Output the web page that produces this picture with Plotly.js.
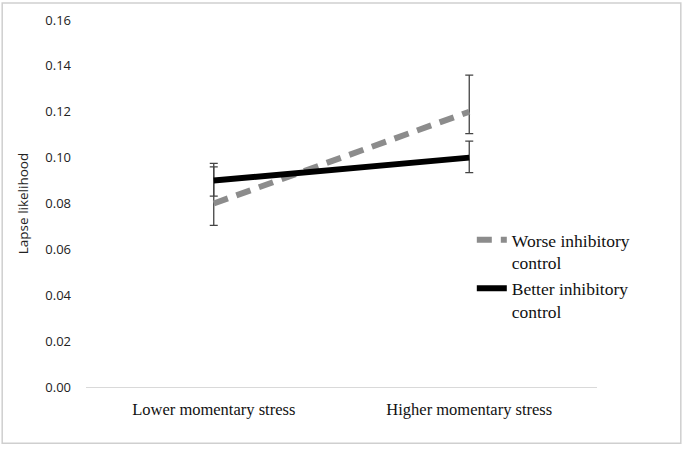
<!DOCTYPE html>
<html>
<head>
<meta charset="utf-8">
<script src="https://cdn.plot.ly/plotly-3.0.1.min.js"></script>
<style>
  body { margin: 0; background: #fff; }
  #chart { width: 687px; height: 449px; }
</style>
</head>
<body>
<div id="chart"></div>
<script>
// Values
const stressLevels = ['Lower momentary stress', 'Higher momentary stress'];

const worseLikelihood = [0.080, 0.120];
const worsePlus = [0.016, 0.016];
const worseMinus = [0.0095, 0.0095];

const betterLikelihood = [0.090, 0.100];
const betterPlus = [0.0075, 0.0072];
const betterMinus = [0.0068, 0.0065];

const yTicks = [0, 0.02, 0.04, 0.06, 0.08, 0.10, 0.12, 0.14, 0.16];

const errStyle = { color: '#444444', thickness: 1.3, width: 4 };

const worse = {
  x: stressLevels,
  y: worseLikelihood,
  name: 'Worse inhibitory<br>control',
  type: 'scatter',
  mode: 'lines',
  line: { color: '#8c8c8c', width: 6, dash: '15px,9px' },
  error_y: Object.assign({ type: 'data', symmetric: false, array: worsePlus, arrayminus: worseMinus }, errStyle)
};

const better = {
  x: stressLevels,
  y: betterLikelihood,
  name: 'Better inhibitory<br>control',
  type: 'scatter',
  mode: 'lines',
  line: { color: '#000000', width: 6 },
  error_y: Object.assign({ type: 'data', symmetric: false, array: betterPlus, arrayminus: betterMinus }, errStyle)
};

const serif = 'Liberation Serif, Times New Roman, serif';
const sans = 'Open Sans, Liberation Sans, sans-serif';

const layout = {
  width: 687,
  height: 449,
  margin: { l: 86, r: 90, t: 20, b: 62 },
  paper_bgcolor: '#ffffff',
  plot_bgcolor: '#ffffff',
  showlegend: true,
  legend: {
    x: 0.755,
    y: 0.45,
    xanchor: 'left',
    yanchor: 'top',
    valign: 'top',
    bgcolor: 'rgba(0,0,0,0)',
    font: { family: serif, size: 17.5, color: '#111' },
    itemwidth: 30
  },
  xaxis: {
    type: 'category',
    range: [-0.5, 1.5],
    showgrid: false,
    zeroline: false,
    showline: true,
    linecolor: '#d9d9d9',
    linewidth: 1,
    ticks: '',
    ticklabelstandoff: 7,
    tickfont: { family: serif, size: 16.5, color: '#111' }
  },
  yaxis: {
    range: [0, 0.16],
    tickvals: yTicks,
    tickformat: '.2f',
    showgrid: false,
    zeroline: false,
    showline: false,
    ticks: '',
    ticklabelstandoff: 14,
    tickfont: { family: sans, size: 13, color: '#222' },
    title: {
      text: 'Lapse likelihood',
      standoff: 13,
      font: { family: sans, size: 13.5, color: '#222' }
    }
  },
  shapes: [{
    type: 'rect',
    xref: 'paper', yref: 'paper',
    x0: -0.164, x1: 1.164, y0: -0.153, y1: 1.046,
    line: { color: '#cfcfcf', width: 1.5 },
    fillcolor: 'rgba(0,0,0,0)'
  }]
};

Plotly.newPlot('chart', [worse, better], layout, { displayModeBar: false, staticPlot: true });
</script>
</body>
</html>
